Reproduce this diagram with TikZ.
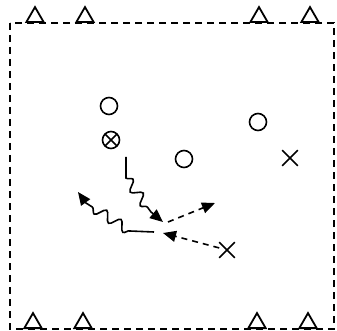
\documentclass[tikz,border=0pt]{standalone}
\usetikzlibrary{arrows.meta,shapes.geometric,shapes.misc,decorations.pathmorphing}
\begin{document}
\begin{tikzpicture}[x=1pt,y=-1pt,
  line width=1.6pt,
  field/.style={dashed, dash pattern=on 7pt off 5pt, line width=1.5pt},
  cone/.style={regular polygon, regular polygon sides=3, draw, inner sep=0pt, minimum size=20pt, line width=1.8pt, fill=white},
  player/.style={circle, draw, inner sep=0pt, minimum size=17pt, line width=1.6pt},
  ballplayer/.style={player, path picture={\draw[line width=1.6pt] (path picture bounding box.south west) -- (path picture bounding box.north east) (path picture bounding box.north west) -- (path picture bounding box.south east);}},
  opp/.style={cross out, draw, inner sep=0pt, minimum size=14pt, line width=1.6pt},
  tip/.style={-{Triangle[length=13pt,width=11pt]}},
  pass/.style={tip, dashed, dash pattern=on 6pt off 5pt},
  wave/.style={decorate, decoration={snake, amplitude=5pt, segment length=17pt}}
]
\useasboundingbox (0,0) rectangle (337,331);
\draw[field] (10,23) rectangle (334,329);
% cones
\node[cone, anchor=south] (t1) at (35,23) {};
\node[cone, anchor=south] (t2) at (85,23) {};
\node[cone, anchor=south] (t3) at (259,23) {};
\node[cone, anchor=south] (t4) at (310,23) {};
\node[cone, anchor=south] (b1) at (33,329) {};
\node[cone, anchor=south] (b2) at (83,329) {};
\node[cone, anchor=south] (b3) at (257,329) {};
\node[cone, anchor=south] (b4) at (308,329) {};
% players
\node[player] (p1) at (109,106) {};
\node[ballplayer] (p2) at (111,140) {};
\node[player] (p3) at (184,159) {};
\node[player] (p4) at (258,122) {};
\node[opp] (x1) at (290,158) {};
\node[opp] (x2) at (227,250) {};
% run paths
\coordinate (r1a) at (126,157);
\coordinate (r1b) at (126,178);
\coordinate (r1c) at (151,212);
\coordinate (r1d) at (163,222);
\draw[tip] (r1a) -- (r1b) decorate[wave]{ -- (r1c)} -- (r1d);
\coordinate (r2a) at (154,232);
\coordinate (r2b) at (130,231);
\coordinate (r2c) at (86,203);
\coordinate (r2d) at (78,192);
\draw[tip] (r2a) -- (r2b) decorate[wave]{ -- (r2c)} -- (r2d);
% passes
\coordinate (pa) at (168,222);
\coordinate (pb) at (215,203);
\draw[pass] (pa) -- (pb);
\coordinate (pc) at (163,233);
\draw[pass] (x2) -- (pc);
\end{tikzpicture}
\end{document}
